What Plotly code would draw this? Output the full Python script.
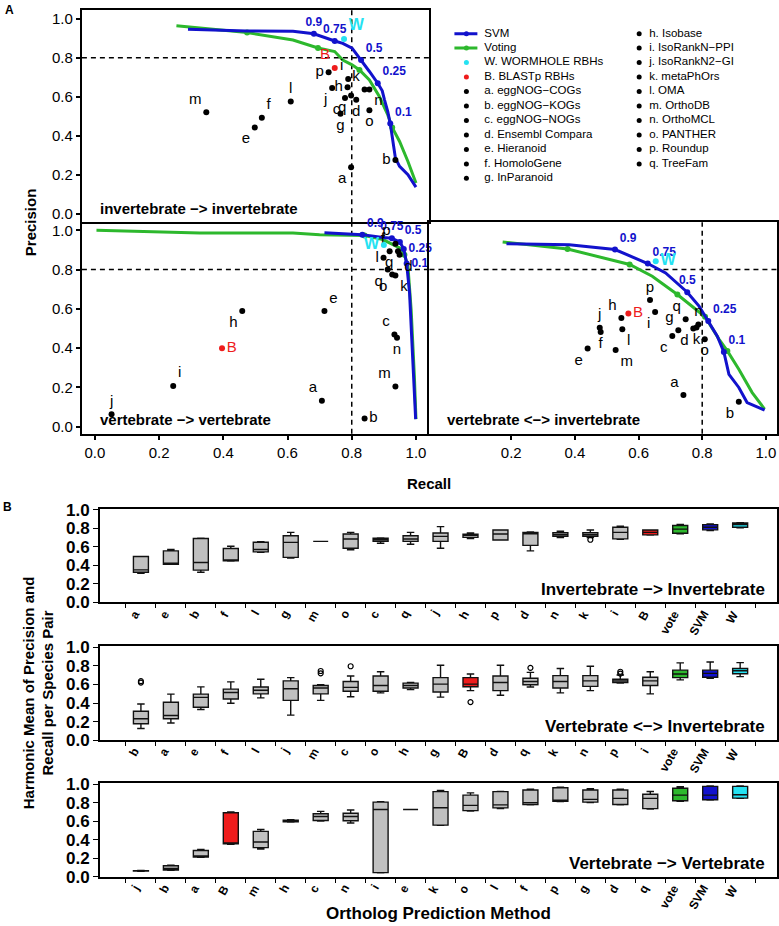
import plotly.graph_objects as go

FW, FH = 779, 926
SANS = "Liberation Sans, Arial, sans-serif"
NARROW = "Liberation Sans Narrow, Arial Narrow, Liberation Sans, sans-serif"
BLUE = "#1212cc"
GREEN = "#2db82d"
CYAN = "#25e2f2"
RED = "#ee1c1c"
GRAY = "#c0c0c0"

# ---------------- Panel A data ----------------
letters = list("abcdefghijklmnopq")
thr_labels = ["0.9", "0.75", "0.5", "0.25", "0.1"]

# invertebrate -> invertebrate
ii_recall = [0.798, 0.936, 0.779, 0.814, 0.498, 0.520, 0.765, 0.787, 0.789, 0.739, 0.840, 0.610, 0.347, 0.855, 0.855, 0.728, 0.798]
ii_precision = [0.240, 0.277, 0.594, 0.585, 0.444, 0.493, 0.514, 0.650, 0.692, 0.645, 0.638, 0.577, 0.522, 0.638, 0.532, 0.726, 0.607]
ii_W = [0.776, 0.896]
ii_B = [0.747, 0.748]
ii_svm_recall = [0.290, 0.472, 0.617, 0.682, 0.747, 0.772, 0.801, 0.829, 0.855, 0.881, 0.895, 0.902, 0.912, 0.920, 0.928, 0.936, 0.949, 0.975, 1.0]
ii_svm_precision = [0.946, 0.937, 0.936, 0.923, 0.886, 0.874, 0.849, 0.789, 0.730, 0.670, 0.631, 0.585, 0.526, 0.464, 0.372, 0.287, 0.245, 0.202, 0.139]
ii_thr_recall = [0.682, 0.747, 0.829, 0.881, 0.920]
ii_thr_precision = [0.923, 0.886, 0.789, 0.670, 0.464]
ii_vote_recall = [0.254, 0.474, 0.617, 0.695, 0.747, 0.772, 0.801, 0.824, 0.855, 0.886, 0.912, 0.926, 0.949, 0.975, 1.0]
ii_vote_precision = [0.964, 0.929, 0.891, 0.850, 0.832, 0.789, 0.764, 0.738, 0.687, 0.602, 0.509, 0.444, 0.372, 0.270, 0.160]
ii_vmk_recall = [0.474, 0.695, 0.824, 0.926]
ii_vmk_precision = [0.929, 0.850, 0.738, 0.444]

# vertebrate -> vertebrate
vv_recall = [0.707, 0.840, 0.933, 0.949, 0.715, 0.918, 0.944, 0.459, 0.244, 0.052, 0.936, 0.899, 0.936, 0.941, 0.926, 0.936, 0.912]
vv_precision = [0.132, 0.042, 0.470, 0.876, 0.589, 0.893, 0.893, 0.589, 0.208, 0.064, 0.770, 0.860, 0.205, 0.453, 0.775, 0.932, 0.800]
vv_W = [0.900, 0.925]
vv_B = [0.396, 0.399]
vv_svm_recall = [0.715, 0.833, 0.897, 0.925, 0.950, 0.962, 0.971, 0.980, 0.990, 0.999]
vv_svm_precision = [0.987, 0.978, 0.964, 0.960, 0.940, 0.905, 0.831, 0.682, 0.343, 0.039]
vv_thr_recall = [0.833, 0.925, 0.950, 0.962, 0.971]
vv_thr_precision = [0.978, 0.960, 0.940, 0.905, 0.831]
vv_vote_recall = [0.005, 0.327, 0.617, 0.700, 0.840, 0.897, 0.949, 0.964, 0.975, 0.985, 0.995, 1.0]
vv_vote_precision = [1.0, 0.986, 0.986, 0.978, 0.973, 0.953, 0.910, 0.876, 0.817, 0.597, 0.259, 0.039]
vv_vmk_recall = [0.840, 0.964]
vv_vmk_precision = [0.973, 0.876]

# vertebrate <-> invertebrate
vi_recall = [0.741, 0.915, 0.706, 0.772, 0.440, 0.481, 0.725, 0.546, 0.652, 0.478, 0.782, 0.549, 0.528, 0.788, 0.808, 0.636, 0.748]
vi_precision = [0.161, 0.127, 0.462, 0.500, 0.398, 0.482, 0.491, 0.553, 0.584, 0.504, 0.505, 0.496, 0.391, 0.520, 0.445, 0.645, 0.547]
vi_W = [0.654, 0.843]
vi_B = [0.568, 0.577]
vi_svm_recall = [0.185, 0.382, 0.526, 0.629, 0.685, 0.753, 0.790, 0.819, 0.847, 0.868, 0.884, 0.915, 0.941, 0.996]
vi_svm_precision = [0.932, 0.927, 0.902, 0.831, 0.783, 0.685, 0.614, 0.538, 0.462, 0.381, 0.267, 0.200, 0.123, 0.085]
vi_thr_recall = [0.526, 0.629, 0.753, 0.819, 0.868]
vi_thr_precision = [0.902, 0.831, 0.685, 0.538, 0.381]
vi_vote_recall = [0.173, 0.377, 0.572, 0.643, 0.722, 0.779, 0.809, 0.853, 0.879, 0.915, 0.957, 0.996]
vi_vote_precision = [0.941, 0.905, 0.826, 0.766, 0.673, 0.597, 0.560, 0.445, 0.386, 0.293, 0.174, 0.090]
vi_vmk_recall = [0.377, 0.572, 0.722, 0.809, 0.879]
vi_vmk_precision = [0.905, 0.826, 0.673, 0.560, 0.386]

legend_left = ["SVM", "Voting", "W. WORMHOLE RBHs", "B. BLASTp RBHs", "a. eggNOG\u2212COGs",
               "b. eggNOG\u2212KOGs", "c. eggNOG\u2212NOGs", "d. Ensembl Compara", "e. Hieranoid",
               "f. HomoloGene", "g. InParanoid"]
legend_right = ["h. Isobase", "i. IsoRankN\u2212PPI", "j. IsoRankN2\u2212GI", "k. metaPhOrs", "l. OMA",
                "m. OrthoDB", "n. OrthoMCL", "o. PANTHER", "p. Roundup", "q. TreeFam"]

# ---------------- Panel B data ----------------
b1_order = ["a", "e", "b", "f", "l", "g", "m", "o", "c", "q", "j", "h", "p", "d", "n", "k", "i", "B", "vote", "SVM", "W"]
b1_low = [0.315, 0.41, 0.325, 0.445, 0.54, 0.478, 0.658, 0.568, 0.637, 0.626, 0.583, 0.687, 0.672, 0.555, 0.70, 0.70, 0.68, 0.725, 0.74, 0.775, 0.805]
b1_q1 = [0.326, 0.412, 0.348, 0.448, 0.545, 0.486, 0.658, 0.583, 0.658, 0.658, 0.658, 0.701, 0.673, 0.615, 0.713, 0.713, 0.685, 0.728, 0.745, 0.782, 0.81]
b1_med = [0.351, 0.415, 0.43, 0.459, 0.57, 0.647, 0.658, 0.683, 0.676, 0.683, 0.712, 0.723, 0.737, 0.74, 0.73, 0.73, 0.755, 0.755, 0.79, 0.81, 0.84]
b1_q3 = [0.495, 0.555, 0.688, 0.581, 0.649, 0.719, 0.658, 0.737, 0.691, 0.719, 0.748, 0.734, 0.78, 0.755, 0.75, 0.75, 0.81, 0.78, 0.828, 0.838, 0.855]
b1_high = [0.495, 0.57, 0.691, 0.605, 0.655, 0.755, 0.658, 0.755, 0.694, 0.755, 0.817, 0.748, 0.781, 0.76, 0.767, 0.78, 0.82, 0.782, 0.84, 0.846, 0.86]
b1_out_cat = ["k"]
b1_out_val = [0.675]

b2_order = ["b", "a", "e", "f", "l", "j", "m", "c", "o", "h", "g", "B", "d", "q", "k", "n", "p", "i", "vote", "SVM", "W"]
b2_low = [0.125, 0.185, 0.33, 0.397, 0.455, 0.27, 0.428, 0.467, 0.509, 0.544, 0.463, 0.533, 0.484, 0.572, 0.509, 0.533, 0.614, 0.498, 0.649, 0.667, 0.684]
b2_q1 = [0.177, 0.23, 0.355, 0.443, 0.498, 0.428, 0.498, 0.526, 0.526, 0.561, 0.519, 0.575, 0.533, 0.596, 0.561, 0.579, 0.621, 0.589, 0.674, 0.677, 0.716]
b2_med = [0.23, 0.266, 0.461, 0.514, 0.537, 0.554, 0.561, 0.568, 0.589, 0.589, 0.604, 0.604, 0.621, 0.632, 0.632, 0.639, 0.639, 0.639, 0.712, 0.719, 0.747]
b2_q3 = [0.312, 0.408, 0.496, 0.55, 0.572, 0.639, 0.589, 0.632, 0.691, 0.614, 0.674, 0.674, 0.691, 0.667, 0.695, 0.695, 0.656, 0.677, 0.754, 0.754, 0.772]
b2_high = [0.39, 0.496, 0.574, 0.628, 0.656, 0.674, 0.596, 0.691, 0.737, 0.621, 0.807, 0.712, 0.807, 0.73, 0.772, 0.796, 0.702, 0.737, 0.832, 0.842, 0.835]
b2_out_cat = ["b", "b", "m", "m", "c", "B", "q", "p", "p"]
b2_out_val = [0.62, 0.635, 0.72, 0.745, 0.796, 0.41, 0.779, 0.716, 0.737]

b3_order = ["j", "b", "a", "B", "m", "h", "c", "n", "i", "e", "k", "o", "l", "f", "p", "g", "d", "q", "vote", "SVM", "W"]
b3_low = [0.06, 0.07, 0.21, 0.35, 0.30, 0.59, 0.60, 0.58, 0.043, 0.725, 0.555, 0.71, 0.735, 0.775, 0.81, 0.80, 0.775, 0.73, 0.815, 0.828, 0.845]
b3_q1 = [0.063, 0.075, 0.215, 0.355, 0.315, 0.592, 0.607, 0.605, 0.046, 0.725, 0.557, 0.714, 0.743, 0.78, 0.815, 0.805, 0.78, 0.735, 0.82, 0.83, 0.848]
b3_med = [0.065, 0.09, 0.225, 0.36, 0.375, 0.60, 0.65, 0.65, 0.725, 0.725, 0.745, 0.77, 0.775, 0.80, 0.82, 0.835, 0.845, 0.845, 0.88, 0.88, 0.885]
b3_q3 = [0.068, 0.12, 0.285, 0.69, 0.49, 0.61, 0.68, 0.685, 0.805, 0.725, 0.918, 0.88, 0.918, 0.935, 0.96, 0.935, 0.935, 0.89, 0.955, 0.975, 0.975]
b3_high = [0.07, 0.125, 0.295, 0.70, 0.51, 0.615, 0.705, 0.72, 0.81, 0.725, 0.93, 0.905, 0.92, 0.945, 0.965, 0.95, 0.945, 0.92, 0.97, 0.98, 0.98]
b3_out_cat = []
b3_out_val = []

# ---------------- styles / label placement ----------------
ii_pos = ["bottom left", "middle left", "bottom left", "bottom center", "bottom left", "top right", "bottom center",
          "middle left", "top left", "bottom left", "top left", "top center", "top left", "bottom right",
          "bottom center", "middle left", "bottom left"]
vv_pos = ["top left", "middle right", "top left", "bottom right", "top right", "top left", "bottom left",
          "bottom left", "top right", "top center", "bottom right", "middle left", "top left", "bottom center",
          "bottom left", "top left", "bottom left"]
vi_pos = ["top left", "bottom left", "bottom left", "bottom left", "bottom left", "bottom center", "top left",
          "top left", "bottom left", "top center", "bottom center", "bottom right", "bottom right", "top center",
          "bottom center", "top center", "top left"]
ii_thr_pos = ["top center", "top center", "top right", "top right", "top right"]
vv_thr_pos = ["top right", "top center", "top right", "middle right", "middle right"]
vi_thr_pos = ["top right", "top right", "top center", "top right", "top right"]
CAT_LABEL_ANGLE = -60

# vertical placement correction (page is photographed slightly squeezed vertically)
SCALE_Y, OFF_Y = 0.9826, 6.3


def Y(p):
    return (p - OFF_Y) / SCALE_Y


def dx(a, b):
    return [a / FW, b / FW]


def dy(top, bottom):
    return [1 - Y(bottom) / FH, 1 - Y(top) / FH]


def py(p):
    return 1 - Y(p) / FH


fig = go.Figure()


def add_pr_panel(xa, ya, rec, prec, pos, W, Wpos, B, Bpos, s_r, s_p, t_r, t_p, t_pos, v_r, v_p, vm_r, vm_p):
    kw = dict(xaxis=xa, yaxis=ya, showlegend=False, hoverinfo="skip", cliponaxis=False)
    fig.add_trace(go.Scatter(x=v_r, y=v_p, mode="lines", line=dict(color=GREEN, width=3), **kw))
    fig.add_trace(go.Scatter(x=vm_r, y=vm_p, mode="markers", marker=dict(color=GREEN, size=6), **kw))
    fig.add_trace(go.Scatter(x=s_r, y=s_p, mode="lines", line=dict(color=BLUE, width=3), **kw))
    fig.add_trace(go.Scatter(x=t_r, y=t_p, mode="markers+text", text=thr_labels, textposition=t_pos,
                             marker=dict(color=BLUE, size=6),
                             textfont=dict(family=SANS, size=12, color=BLUE, weight="bold"), **kw))
    fig.add_trace(go.Scatter(x=rec, y=prec, mode="markers+text", text=letters, textposition=pos,
                             marker=dict(color="black", size=6),
                             textfont=dict(family=SANS, size=15, color="black"), **kw))
    fig.add_trace(go.Scatter(x=[W[0]], y=[W[1]], mode="markers+text", text=["W"], textposition=Wpos,
                             marker=dict(color=CYAN, size=6),
                             textfont=dict(family=SANS, size=16, color=CYAN, weight="bold"), **kw))
    fig.add_trace(go.Scatter(x=[B[0]], y=[B[1]], mode="markers+text", text=["B"], textposition=Bpos,
                             marker=dict(color=RED, size=6),
                             textfont=dict(family=SANS, size=15, color=RED), **kw))


add_pr_panel("x", "y", ii_recall, ii_precision, ii_pos, ii_W, "top right", ii_B, "top left",
             ii_svm_recall, ii_svm_precision, ii_thr_recall, ii_thr_precision, ii_thr_pos,
             ii_vote_recall, ii_vote_precision, ii_vmk_recall, ii_vmk_precision)
add_pr_panel("x2", "y2", vv_recall, vv_precision, vv_pos, vv_W, "middle left", vv_B, "middle right",
             vv_svm_recall, vv_svm_precision, vv_thr_recall, vv_thr_precision, vv_thr_pos,
             vv_vote_recall, vv_vote_precision, vv_vmk_recall, vv_vmk_precision)
add_pr_panel("x3", "y3", vi_recall, vi_precision, vi_pos, vi_W, "middle right", vi_B, "middle right",
             vi_svm_recall, vi_svm_precision, vi_thr_recall, vi_thr_precision, vi_thr_pos,
             vi_vote_recall, vi_vote_precision, vi_vmk_recall, vi_vmk_precision)

# ---------------- custom legend (axis x4/y4, units = px offsets / rows) ----------------
LEG_ROW0, LEG_DY = 32, 14.5
lkw = dict(xaxis="x4", yaxis="y4", showlegend=False, hoverinfo="skip", cliponaxis=False)
left_rows = list(range(len(legend_left)))
right_rows = list(range(len(legend_right)))
for row, col in [(0, BLUE), (1, GREEN)]:
    fig.add_trace(go.Scatter(x=[25, 48], y=[row, row], mode="lines", line=dict(color=col, width=3), **lkw))
left_colors = [BLUE, GREEN, CYAN, RED] + ["black"] * (len(legend_left) - 4)
fig.add_trace(go.Scatter(x=[37] * len(legend_left), y=left_rows, mode="markers",
                         marker=dict(color=left_colors, size=5), **lkw))
fig.add_trace(go.Scatter(x=[55] * len(legend_left), y=left_rows, mode="text", text=legend_left,
                         textposition="middle right", textfont=dict(family=SANS, size=11.5, color="black"), **lkw))
fig.add_trace(go.Scatter(x=[210] * len(legend_right), y=right_rows, mode="markers",
                         marker=dict(color="black", size=5), **lkw))
fig.add_trace(go.Scatter(x=[220] * len(legend_right), y=right_rows, mode="text", text=legend_right,
                         textposition="middle right", textfont=dict(family=SANS, size=11.5, color="black"), **lkw))


# ---------------- box panels ----------------
def box_color(name):
    return {"B": RED, "vote": GREEN, "SVM": BLUE, "W": CYAN}.get(name, GRAY)


ann = []


def add_box_panel(xa, ya, tick_xa, order, low, q1, med, q3, high, out_cat, out_val):
    cols = [GRAY, RED, GREEN, BLUE, CYAN]
    for c in cols:
        idx = [i for i, n in enumerate(order) if box_color(n) == c]
        if not idx:
            continue
        fig.add_trace(go.Box(x=idx, q1=[q1[i] for i in idx], median=[med[i] for i in idx],
                             q3=[q3[i] for i in idx], lowerfence=[low[i] for i in idx],
                             upperfence=[high[i] for i in idx], fillcolor=c,
                             line=dict(color="#111111", width=1.4), width=0.5, whiskerwidth=0.5,
                             boxpoints=False, xaxis=xa, yaxis=ya, showlegend=False, hoverinfo="skip"))
    if out_cat:
        fig.add_trace(go.Scatter(x=[order.index(c) for c in out_cat], y=out_val, mode="markers",
                                 marker=dict(symbol="circle-open", size=5, color="black", line=dict(width=1.2)),
                                 xaxis=xa, yaxis=ya, showlegend=False, hoverinfo="skip"))
    # empty trace so the boundary-tick overlay axis is drawn
    fig.add_trace(go.Scatter(x=[None], y=[None], xaxis=tick_xa, yaxis=ya, showlegend=False, hoverinfo="skip"))
    # rotated category labels
    for i, name in enumerate(order):
        ann.append(dict(text=name, x=i, xref=xa, y=0, yref=ya + " domain",
                        xanchor="right", yanchor="top", textangle=CAT_LABEL_ANGLE, showarrow=False,
                        yshift=-3, xshift=4,
                        font=dict(family=SANS, size=12, color="black", weight="bold")))


add_box_panel("x5", "y5", "x8", b1_order, b1_low, b1_q1, b1_med, b1_q3, b1_high, b1_out_cat, b1_out_val)
add_box_panel("x6", "y6", "x9", b2_order, b2_low, b2_q1, b2_med, b2_q3, b2_high, b2_out_cat, b2_out_val)
add_box_panel("x7", "y7", "x10", b3_order, b3_low, b3_q1, b3_med, b3_q3, b3_high, b3_out_cat, b3_out_val)


# ---------------- axes ----------------
def axA(**kw):
    d = dict(showline=True, linecolor="black", linewidth=2, mirror=True, showgrid=False, zeroline=False,
             ticks="outside", ticklen=4, tickwidth=1.5, tickcolor="black",
             tickvals=[0, 0.2, 0.4, 0.6, 0.8, 1.0], tickformat=".1f",
             tickfont=dict(family=SANS, size=15, color="black"), fixedrange=True)
    d.update(kw)
    return d


XB_RANGE = [-1.37, 21.23]


def axB_x(anchor):
    return dict(domain=dx(100, 778), range=XB_RANGE, anchor=anchor, showline=True, linecolor="black",
                linewidth=1.5, mirror=True, showgrid=False, zeroline=False, showticklabels=False, ticks="")


def axB_tick(order, overlay, anchor):
    return dict(domain=dx(100, 778), range=XB_RANGE, overlaying=overlay, anchor=anchor, showline=False,
                showgrid=False, zeroline=False, tickmode="array",
                tickvals=[i - 0.5 for i in range(len(order) + 1)], ticks="outside", ticklen=5,
                tickwidth=1.2, tickcolor="black", showticklabels=False, side="bottom")


def axB_y(top, bottom, anchor):
    return dict(domain=dy(top, bottom), range=[0, 1.01], anchor=anchor, showline=True, linecolor="black",
                linewidth=1.5, mirror=True, showgrid=False, zeroline=False, ticks="outside", ticklen=5,
                tickwidth=1.2, tickcolor="black", tickvals=[0, 0.2, 0.4, 0.6, 0.8, 1.0], tickformat=".1f",
                tickfont=dict(family=NARROW, size=17, color="black", weight="bold"))


fig.update_layout(
    xaxis=axA(domain=dx(82, 430), range=[-0.0404, 1.042], anchor="y", showticklabels=False, ticks=""),
    yaxis=axA(domain=dy(8, 221), range=[-0.041, 1.046], anchor="x"),
    xaxis2=axA(domain=dx(82, 430), range=[-0.0404, 1.042], anchor="y2", mirror=False),
    yaxis2=axA(domain=dy(221, 433), range=[-0.036, 1.041], anchor="x2", mirror=False),
    xaxis3=axA(domain=dx(430, 778), range=[-0.057, 1.035], anchor="y3", tickvals=[0.2, 0.4, 0.6, 0.8, 1.0]),
    yaxis3=axA(domain=dy(221, 433), range=[-0.036, 1.041], anchor="x3", showticklabels=False, ticks=""),
    xaxis4=dict(domain=dx(430, 779), range=[0, 349], visible=False, anchor="y4", fixedrange=True),
    yaxis4=dict(domain=dy(8, 221), range=[(221 - LEG_ROW0) / LEG_DY, (8 - LEG_ROW0) / LEG_DY],
                visible=False, anchor="x4", fixedrange=True),
    xaxis5=axB_x("y5"), yaxis5=axB_y(508, 602, "x5"),
    xaxis6=axB_x("y6"), yaxis6=axB_y(646, 740, "x6"),
    xaxis7=axB_x("y7"), yaxis7=axB_y(783, 877, "x7"),
    xaxis8=axB_tick(b1_order, "x5", "y5"),
    xaxis9=axB_tick(b2_order, "x6", "y6"),
    xaxis10=axB_tick(b3_order, "x7", "y7"),
)

# dashed reference lines at 0.8
shapes = []
for xa, ya in [("x", "y"), ("x2", "y2"), ("x3", "y3")]:
    shapes.append(dict(type="line", xref=xa + " domain", yref=ya, x0=0, x1=1, y0=0.8, y1=0.8,
                       line=dict(color="black", width=1.5, dash="5px,4px"), layer="below"))
    shapes.append(dict(type="line", xref=xa, yref=ya + " domain", x0=0.8, x1=0.8, y0=0, y1=1,
                       line=dict(color="black", width=1.5, dash="5px,4px"), layer="below"))


def A(text, x, y, **kw):
    d = dict(text=text, x=x, y=y, xref="paper", yref="paper", showarrow=False, xanchor="center",
             yanchor="middle")
    d.update(kw)
    ann.append(d)


A("<b>A</b>", 10 / FW, py(8), font=dict(family=SANS, size=12, color="black"))
A("<b>B</b>", 8 / FW, py(506), font=dict(family=SANS, size=12, color="black"))
A("<b>Precision</b>", 30 / FW, py(221), textangle=-90, font=dict(family=SANS, size=15, color="black"))
A("<b>Recall</b>", 430 / FW, py(483), font=dict(family=SANS, size=15, color="black"))
for xa, ya, t in [("x", "y", "invertebrate \u2212> invertebrate"), ("x2", "y2", "vertebrate \u2212> vertebrate"),
                  ("x3", "y3", "vertebrate <\u2212> invertebrate")]:
    ann.append(dict(text="<b>" + t + "</b>", xref=xa + " domain", yref=ya + " domain", x=0.045, y=0.066,
                    xanchor="left", yanchor="middle", showarrow=False,
                    font=dict(family=SANS, size=15, color="black")))
for xa, ya, t in [("x5", "y5", "Invertebrate \u2212> Invertebrate"), ("x6", "y6", "Vertebrate <\u2212> Invertebrate"),
                  ("x7", "y7", "Vertebrate \u2212> Vertebrate")]:
    ann.append(dict(text="<b>" + t + "</b>", xref=xa + " domain", yref=ya + " domain", x=0.985, y=0.02,
                    xanchor="right", yanchor="bottom", showarrow=False,
                    font=dict(family=NARROW, size=17, color="black")))
A("<b>Harmonic Mean of Precision and<br>Recall per Species Pair</b>", 38 / FW, py(692), textangle=-90,
  font=dict(family=SANS, size=15, color="black"))
A("<b>Ortholog Prediction Method</b>", 439 / FW, py(914), font=dict(family=NARROW, size=17, color="black"))

fig.update_layout(width=FW, height=FH, margin=dict(l=0, r=0, t=0, b=0), paper_bgcolor="white",
                  plot_bgcolor="white", showlegend=False, hovermode=False, shapes=shapes, annotations=ann,
                  boxmode="overlay")

fig.write_html("out.html", config={"displayModeBar": False},
               post_script="document.body.style.margin='0';")
